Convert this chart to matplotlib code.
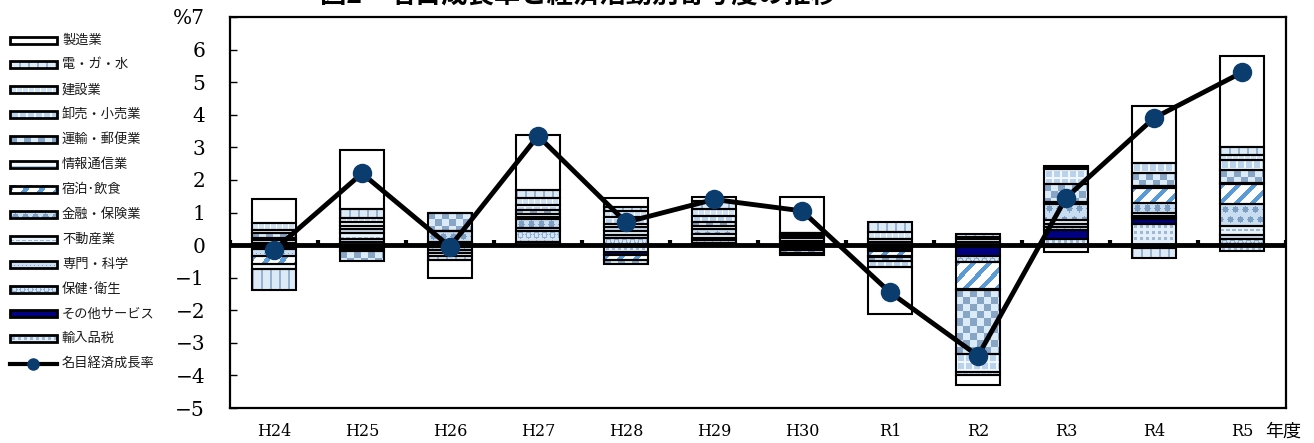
import numpy as np
import matplotlib
matplotlib.use("Agg")
import matplotlib.pyplot as plt
from matplotlib.colors import to_rgb
from matplotlib.patches import Rectangle

# ---- data -----------------------------------------------------------------
years = ["H24", "H25", "H26", "H27", "H28", "H29", "H30", "R1", "R2", "R3", "R4", "R5"]

# contributions to nominal growth (percentage points), listed in stacking order
import_tax    = [0.05, 0.10, 0.05, 0.08, -0.20, 0.05, 0.05, -0.10, -0.07, 0.20, 0.66, -0.18]
other_serv    = [-0.05, -0.05, -0.05, 0.00, -0.10, 0.00, -0.03, -0.03, -0.27, 0.25, 0.14, 0.02]
health        = [-0.08, -0.08, -0.10, 0.35, 0.22, 0.10, 0.08, -0.05, -0.17, 0.10, 0.05, 0.18]
professional  = [-0.20, 0.10, -0.10, 0.10, 0.10, 0.08, -0.06, 0.10, 0.08, 0.10, 0.05, 0.10]
real_estate   = [0.10, 0.18, 0.05, 0.00, 0.12, 0.12, 0.08, 0.10, 0.10, 0.12, 0.10, 0.28]
finance       = [0.08, 0.10, 0.33, 0.28, 0.10, 0.15, 0.05, 0.00, 0.08, 0.50, 0.28, 0.67]
accommodation = [-0.25, -0.05, 0.00, 0.05, -0.15, -0.04, -0.05, -0.15, -0.83, -0.05, 0.48, 0.61]
info_comm     = [-0.15, 0.12, 0.00, 0.10, 0.12, 0.10, 0.05, -0.05, -0.05, 0.05, 0.05, 0.05]
transport     = [0.15, -0.32, 0.57, 0.12, -0.14, 0.10, -0.10, -0.10, -1.94, 0.55, 0.41, 0.39]
wholesale     = [0.08, 0.10, -0.10, 0.15, 0.20, 0.20, -0.05, -0.20, -0.57, 0.45, 0.31, 0.31]
construction  = [0.22, 0.12, 0.00, 0.20, 0.20, 0.20, 0.05, 0.20, -0.08, 0.05, -0.08, 0.16]
utilities     = [-0.65, 0.30, -0.11, 0.25, 0.12, 0.25, 0.00, 0.32, 0.08, 0.05, -0.33, 0.25]
manufacturing = [0.72, 1.81, -0.56, 1.69, 0.25, 0.13, 1.12, -1.45, -0.30, -0.15, 1.73, 2.78]

nominal_growth = [-0.15, 2.20, -0.05, 3.35, 0.70, 1.40, 1.05, -1.45, -3.40, 1.45, 3.90, 5.30]

# (legend label, values, fill pattern) in stacking order, bottom first
series = [
    ("輸入品税", import_tax, "dots"),
    ("その他サービス", other_serv, "navy"),
    ("保健･衛生", health, "rings"),
    ("専門・科学", professional, "fine"),
    ("不動産業", real_estate, "dash"),
    ("金融・保険業", finance, "bigdots"),
    ("宿泊･飲食", accommodation, "diag"),
    ("情報通信業", info_comm, "hline"),
    ("運輸・郵便業", transport, "checker"),
    ("卸売・小売業", wholesale, "grid"),
    ("建設業", construction, "grid2"),
    ("電・ガ・水", utilities, "vstripe"),
    ("製造業", manufacturing, "white"),
]

JP = ["Noto Sans CJK JP", "DejaVu Sans"]
SERIF = ["DejaVu Serif"]


def pattern(kind, w, h):
    """Pixel-level fill pattern of size h x w (RGB floats)."""
    yy, xx = np.mgrid[0:h, 0:w]
    img = np.ones((h, w, 3))

    def paint(mask, color):
        img[mask] = to_rgb(color)

    if kind == "white":
        pass
    elif kind == "navy":
        paint(np.ones((h, w), bool), "#000080")
    elif kind == "checker":
        paint(np.ones((h, w), bool), "#DCEBF8")
        paint(((xx // 7 + yy // 7) % 2) == 0, "#88A5C6")
    elif kind == "grid":
        paint(np.ones((h, w), bool), "#B9D3EC")
        paint((xx % 8 < 2) | (yy % 8 < 2), "#F1F7FC")
    elif kind == "grid2":
        paint(np.ones((h, w), bool), "#CFE1F3")
        paint((xx % 6 < 1) | (yy % 6 < 1), "#FFFFFF")
    elif kind == "vstripe":
        paint(np.ones((h, w), bool), "#DDEAF6")
        paint(xx % 9 < 2, "#93B3D3")
    elif kind == "diag":
        paint(((xx + yy) % 16) < 6, "#5B9BD5")
    elif kind == "dots":
        paint(np.ones((h, w), bool), "#E3EEF8")
        paint(((xx % 6 - 3) ** 2 + (yy % 6 - 3) ** 2) <= 2, "#9DB9D6")
    elif kind == "bigdots":
        paint(np.ones((h, w), bool), "#C9DDF0")
        sx = (xx + (yy // 10) * 5) % 10 - 5
        sy = yy % 10 - 5
        paint(sx ** 2 + sy ** 2 <= 9, "#7E9FC4")
    elif kind == "rings":
        paint(np.ones((h, w), bool), "#D5E5F4")
        d = (xx % 8 - 4) ** 2 + (yy % 8 - 4) ** 2
        paint((d >= 4) & (d <= 9), "#8FB0D3")
    elif kind == "fine":
        paint(np.ones((h, w), bool), "#CADDF0")
        paint((xx % 4 == 0) & (yy % 4 == 0), "#7FA2C8")
    elif kind == "hline":
        paint(np.ones((h, w), bool), "#F4F8FC")
        paint(yy % 5 < 1, "#A8C6E4")
    elif kind == "dash":
        paint(np.ones((h, w), bool), "#E9F1F9")
        paint((yy % 4 < 1) & (xx % 6 < 4), "#9DB9D6")
    return img


W, H = 1314, 443
fig = plt.figure(figsize=(W / 100, H / 100), dpi=100)
ax = fig.add_axes([230 / W, 35 / H, 1056 / W, 391 / H])
ax.set_xlim(-0.5, 11.5)
ax.set_ylim(-5, 7)

p0 = ax.transData.transform((0, 0))
p1 = ax.transData.transform((1, 1))
px_x, px_y = p1 - p0

x = np.arange(len(years))
bar_w = 0.5
pos_base = np.zeros(len(years))
neg_base = np.zeros(len(years))

for label, vals, kind in series:
    vals = np.asarray(vals, float)
    base = np.where(vals >= 0, pos_base, neg_base)
    ax.bar(x, vals, width=bar_w, bottom=base, color="white", edgecolor="none", zorder=2)
    for i, v in enumerate(vals):
        if v == 0:
            continue
        lo = base[i] + min(v, 0)
        hi = base[i] + max(v, 0)
        img = pattern(kind, int(round(bar_w * px_x)), max(1, int(round(abs(v) * px_y))))
        ax.imshow(img, extent=(i - bar_w / 2, i + bar_w / 2, lo, hi), aspect="auto",
                  interpolation="nearest", zorder=2.5)
    ax.bar(x, vals, width=bar_w, bottom=base, fill=False, edgecolor="black",
           linewidth=1.5, zorder=3)
    pos_base = pos_base + np.clip(vals, 0, None)
    neg_base = neg_base + np.clip(vals, None, 0)

ax.set_xlim(-0.5, 11.5)
ax.set_ylim(-5, 7)
ax.set_aspect("auto")

# horizontal axis at zero with category-boundary ticks
ax.axhline(0, color="black", lw=3.5, zorder=4)
ax.vlines(np.arange(-0.5, len(years)), 0, 0.17, color="black", lw=3, zorder=4)

ax.plot(x, nominal_growth, color="black", lw=3.5, marker="o", ms=13,
        mfc="#0B3C6E", mec="#0B3C6E", zorder=5)

for s in ax.spines.values():
    s.set_linewidth(1.6)
    s.set_color("black")

yt = np.arange(-5, 8)
ylabels = [("%" + str(v)) if v == 7 else str(v).replace("-", "\u2212") for v in yt]
ax.set_yticks(yt)
ax.set_yticklabels(ylabels, fontfamily=SERIF, fontsize=14.5)
ax.tick_params(axis="y", direction="in", length=5, width=1, pad=18)
ax.set_xticks(x)
ax.set_xticklabels(years, fontfamily=SERIF, fontsize=11.5)
ax.tick_params(axis="x", length=0, pad=11)

fig.text(1283 / W, 1 - 432 / H, "年度", fontfamily=JP, fontsize=13, ha="center", va="center")
fig.text(578 / W, 1 + 4 / H, "図2\u3000名目成長率と経済活動別寄与度の推移", fontfamily=JP,
         fontsize=19, fontweight="bold", ha="center", va="center")

# legend drawn in a pixel-coordinate overlay on the left
lg = fig.add_axes([0, 0, 229 / W, 1])
lg.set_xlim(0, 229)
lg.set_ylim(H, 0)
lg.axis("off")
entries = list(reversed(series))
for k, (label, vals, kind) in enumerate(entries):
    yc = 40 + k * 24.9
    img = pattern(kind, 47, 7)
    lg.imshow(img, extent=(10, 57, yc + 3.5, yc - 3.5), aspect="auto", interpolation="nearest")
    lg.add_patch(Rectangle((10, yc - 3.5), 47, 7, fill=False, edgecolor="black", lw=2))
    lg.text(62, yc, label, fontfamily=JP, fontsize=9.5, va="center", ha="left", color="#1a1a1a")
yc = 40 + len(entries) * 24.9
lg.plot([10, 57], [yc, yc], color="black", lw=3)
lg.plot([33], [yc], marker="o", ms=8, color="#0B3C6E")
lg.text(62, yc, "名目経済成長率", fontfamily=JP, fontsize=9.5, va="center", ha="left", color="#1a1a1a")
lg.set_xlim(0, 229)
lg.set_ylim(H, 0)

fig.savefig("out.png", dpi=100)
